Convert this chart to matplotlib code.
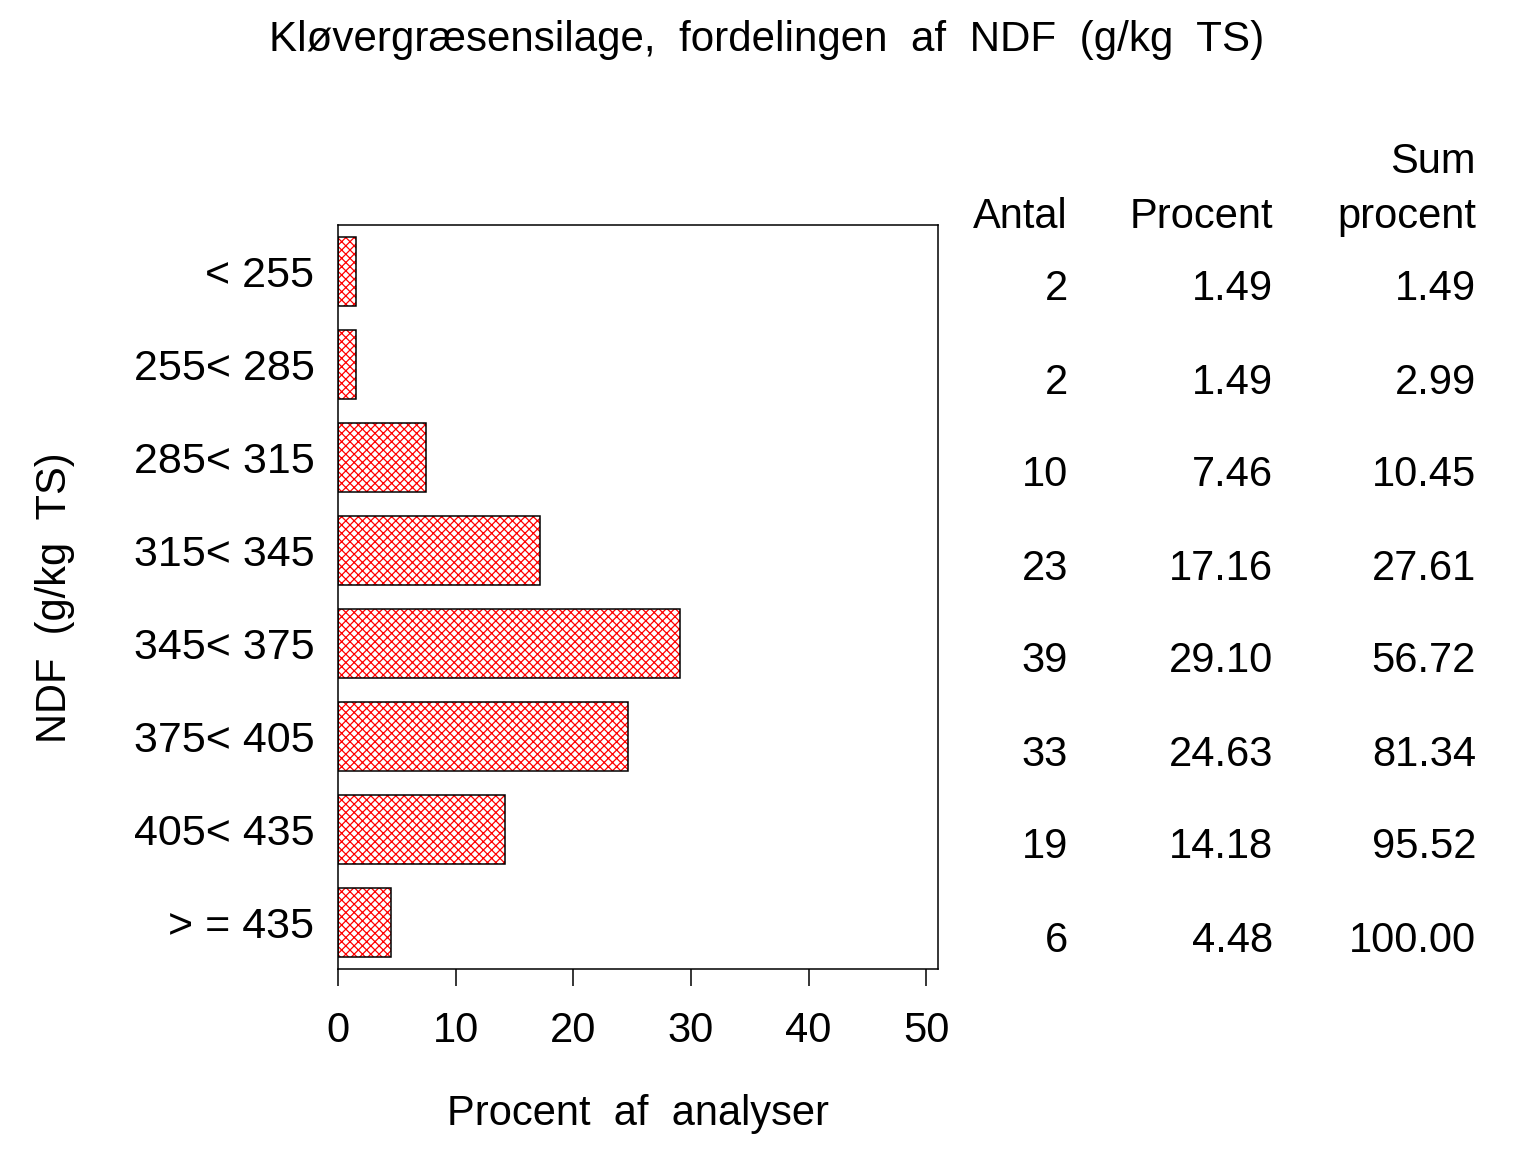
import matplotlib
matplotlib.use("Agg")
import matplotlib.pyplot as plt
import matplotlib.transforms as mtransforms
import numpy as np

categories = ["< 255", "255< 285", "285< 315", "315< 345", "345< 375",
              "375< 405", "405< 435", "> = 435"]
antal = [2, 2, 10, 23, 39, 33, 19, 6]
procent = [1.49, 1.49, 7.46, 17.16, 29.10, 24.63, 14.18, 4.48]
sum_procent = [1.49, 2.99, 10.45, 27.61, 56.72, 81.34, 95.52, 100.00]
xticks = [0, 10, 20, 30, 40, 50]

plt.rcParams['font.family'] = ['Liberation Sans', 'DejaVu Sans']
plt.rcParams['hatch.linewidth'] = 0.9

W, H = 1536, 1152
fig = plt.figure(figsize=(W / 100, H / 100), dpi=100)
ax = fig.add_axes([338 / W, 1 - 969 / H, 600 / W, 744 / H])

y = np.arange(len(categories))
ax.barh(y, procent, height=0.75, color='white', edgecolor='#ff0000',
        hatch='xxxx', linewidth=0)
ax.barh(y, procent, height=0.75, fill=False, edgecolor='black', linewidth=1.1)

ax.set_xlim(0, 51)
ax.set_ylim(len(categories) - 0.5, -0.5)
ax.set_xticks(xticks)
ax.set_xticklabels([str(t) for t in xticks], fontsize=30)
ax.set_yticks(y)
ax.set_yticklabels(categories, fontsize=31)
ax.tick_params(axis='y', length=0, pad=17)
ax.tick_params(axis='x', length=12, width=1.1, pad=18, direction='out')
for s in ax.spines.values():
    s.set_linewidth(1.1)

ax.set_xlabel("Procent  af  analyser", fontsize=30, labelpad=31)
fig.text(55 / W, 1 - 598 / H, "NDF  (g/kg  TS)", fontsize=30, rotation=90,
         ha='center', va='center')
fig.text(767 / W, 1 - 40 / H,
         "Kløvergræsensilage,  fordelingen  af  NDF  (g/kg  TS)",
         fontsize=30.3, ha='center', va='center')

# table
base = mtransforms.blended_transform_factory(fig.transFigure, ax.transData)
trans = base + mtransforms.ScaledTranslation(0, -29 / 100, fig.dpi_scale_trans)
cols = [(1068, antal, "{:d}"), (1273, procent, "{:.2f}"), (1476, sum_procent, "{:.2f}")]
for xpx, vals, fmt in cols:
    for yi, v in zip(y, vals):
        fig.text(xpx / W, yi, fmt.format(v), transform=trans, fontsize=30,
                 ha='right', va='baseline')

hy = 1 - 228 / H
fig.text(1068 / W, hy, "Antal", fontsize=30, ha='right', va='baseline')
fig.text(1273 / W, hy, "Procent", fontsize=30, ha='right', va='baseline')
fig.text(1476 / W, hy, "procent", fontsize=30, ha='right', va='baseline')
fig.text(1476 / W, 1 - 173 / H, "Sum", fontsize=30, ha='right', va='baseline')

fig.savefig("out.png", dpi=100)
